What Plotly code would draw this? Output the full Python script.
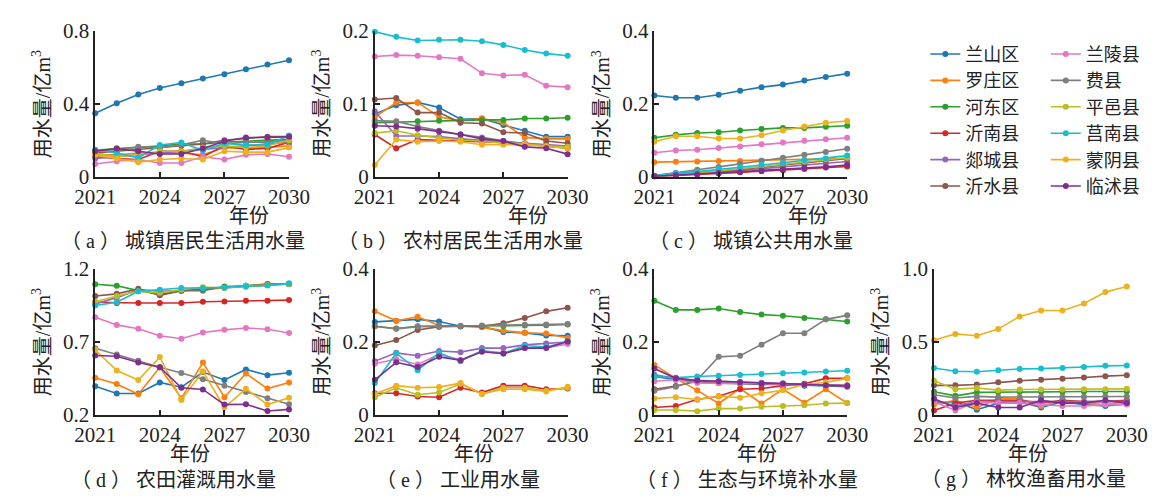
import plotly.graph_objects as go

W, H = 1169, 502

years = list(range(2021, 2031))
districts = ["兰山区", "罗庄区", "河东区", "沂南县", "郯城县", "沂水县",
             "兰陵县", "费县", "平邑县", "莒南县", "蒙阴县", "临沭县"]
colors = ["#1f77b4", "#ff7f0e", "#2ca02c", "#d62728", "#9467bd", "#8c564b",
          "#e377c2", "#7f7f7f", "#bcbd22", "#17becf", "#edb120", "#7e2f8e"]

# (a) urban domestic water use, one row per district (same order as `districts`)
urban_domestic = [
    [0.348, 0.403, 0.452, 0.487, 0.513, 0.539, 0.563, 0.590, 0.616, 0.640],
    [0.12, 0.12, 0.13, 0.13, 0.13, 0.12, 0.16, 0.155, 0.16, 0.17],
    [0.145, 0.155, 0.16, 0.17, 0.18, 0.18, 0.19, 0.195, 0.20, 0.205],
    [0.11, 0.10, 0.095, 0.14, 0.14, 0.11, 0.17, 0.15, 0.155, 0.19],
    [0.10, 0.11, 0.12, 0.13, 0.14, 0.15, 0.16, 0.17, 0.18, 0.19],
    [0.13, 0.14, 0.15, 0.16, 0.17, 0.18, 0.20, 0.21, 0.22, 0.22],
    [0.07, 0.085, 0.095, 0.075, 0.075, 0.11, 0.095, 0.12, 0.125, 0.11],
    [0.14, 0.15, 0.165, 0.16, 0.175, 0.20, 0.18, 0.19, 0.19, 0.20],
    [0.13, 0.11, 0.12, 0.14, 0.14, 0.16, 0.17, 0.16, 0.17, 0.20],
    [0.148, 0.13, 0.104, 0.174, 0.188, 0.144, 0.183, 0.174, 0.174, 0.226],
    [0.12, 0.10, 0.08, 0.095, 0.10, 0.095, 0.14, 0.135, 0.135, 0.16],
    [0.14, 0.155, 0.14, 0.125, 0.125, 0.155, 0.195, 0.215, 0.215, 0.22],
]

# (b) rural domestic water use
rural_domestic = [
    [0.086, 0.098, 0.102, 0.095, 0.079, 0.080, 0.071, 0.063, 0.055, 0.055],
    [0.082, 0.102, 0.102, 0.082, 0.077, 0.080, 0.074, 0.054, 0.052, 0.052],
    [0.074, 0.075, 0.076, 0.077, 0.077, 0.078, 0.078, 0.080, 0.080, 0.081],
    [0.058, 0.039, 0.051, 0.050, 0.049, 0.048, 0.047, 0.045, 0.042, 0.039],
    [0.090, 0.056, 0.056, 0.055, 0.052, 0.050, 0.048, 0.046, 0.044, 0.042],
    [0.106, 0.108, 0.088, 0.088, 0.074, 0.073, 0.061, 0.060, 0.049, 0.046],
    [0.165, 0.167, 0.166, 0.164, 0.162, 0.142, 0.139, 0.140, 0.125, 0.123],
    [0.077, 0.076, 0.069, 0.063, 0.058, 0.054, 0.049, 0.045, 0.042, 0.040],
    [0.060, 0.063, 0.057, 0.053, 0.050, 0.049, 0.046, 0.045, 0.042, 0.041],
    [0.199, 0.192, 0.187, 0.188, 0.188, 0.186, 0.181, 0.174, 0.169, 0.166],
    [0.016, 0.051, 0.048, 0.049, 0.048, 0.044, 0.044, 0.044, 0.042, 0.039],
    [0.070, 0.069, 0.066, 0.062, 0.058, 0.052, 0.049, 0.041, 0.039, 0.031],
]

# (c) urban public water use
urban_public = [
    [0.223, 0.217, 0.217, 0.225, 0.236, 0.246, 0.253, 0.264, 0.274, 0.283],
    [0.040, 0.041, 0.042, 0.043, 0.043, 0.044, 0.045, 0.046, 0.048, 0.050],
    [0.107, 0.115, 0.120, 0.122, 0.127, 0.131, 0.134, 0.134, 0.137, 0.140],
    [0.001, 0.003, 0.006, 0.009, 0.012, 0.015, 0.018, 0.021, 0.025, 0.028],
    [0.002, 0.005, 0.009, 0.013, 0.017, 0.022, 0.027, 0.032, 0.037, 0.042],
    [0.001, 0.005, 0.010, 0.015, 0.020, 0.025, 0.032, 0.038, 0.045, 0.050],
    [0.066, 0.072, 0.074, 0.079, 0.083, 0.089, 0.094, 0.099, 0.103, 0.107],
    [0.003, 0.010, 0.019, 0.027, 0.036, 0.044, 0.052, 0.060, 0.068, 0.077],
    [0.001, 0.005, 0.010, 0.016, 0.022, 0.030, 0.036, 0.042, 0.048, 0.052],
    [0.002, 0.010, 0.014, 0.021, 0.026, 0.032, 0.038, 0.045, 0.050, 0.058],
    [0.096, 0.111, 0.111, 0.105, 0.105, 0.114, 0.127, 0.138, 0.148, 0.153],
    [0.001, 0.004, 0.007, 0.010, 0.013, 0.016, 0.020, 0.024, 0.027, 0.032],
]

# (d) farmland irrigation water use
irrigation = [
    [0.396, 0.346, 0.346, 0.422, 0.389, 0.493, 0.439, 0.511, 0.472, 0.489],
    [0.454, 0.411, 0.341, 0.526, 0.313, 0.559, 0.320, 0.483, 0.380, 0.422],
    [1.096, 1.085, 1.052, 1.026, 1.052, 1.052, 1.080, 1.085, 1.096, 1.098],
    [0.972, 0.967, 0.967, 0.967, 0.967, 0.976, 0.978, 0.983, 0.983, 0.987],
    [0.960, 1.004, 1.059, 1.048, 1.052, 1.059, 1.070, 1.080, 1.090, 1.098],
    [1.015, 1.030, 1.065, 1.020, 1.052, 1.065, 1.074, 1.085, 1.098, 1.096],
    [0.870, 0.817, 0.791, 0.743, 0.722, 0.765, 0.783, 0.796, 0.787, 0.761],
    [0.657, 0.613, 0.570, 0.526, 0.487, 0.443, 0.400, 0.357, 0.313, 0.272],
    [0.976, 1.015, 1.048, 1.037, 1.059, 1.076, 1.070, 1.085, 1.091, 1.098],
    [0.950, 0.972, 1.048, 1.059, 1.070, 1.070, 1.074, 1.080, 1.087, 1.102],
    [0.646, 0.504, 0.439, 0.596, 0.302, 0.498, 0.250, 0.378, 0.270, 0.317],
    [0.607, 0.602, 0.559, 0.526, 0.385, 0.374, 0.270, 0.272, 0.226, 0.237],
]

# (e) industrial water use
industrial = [
    [0.255, 0.258, 0.262, 0.256, 0.243, 0.243, 0.227, 0.225, 0.218, 0.217],
    [0.284, 0.258, 0.269, 0.245, 0.243, 0.240, 0.231, 0.225, 0.223, 0.211],
    [0.243, 0.237, 0.243, 0.243, 0.243, 0.243, 0.244, 0.245, 0.246, 0.248],
    [0.059, 0.059, 0.050, 0.048, 0.074, 0.061, 0.080, 0.080, 0.070, 0.072],
    [0.147, 0.170, 0.162, 0.175, 0.172, 0.183, 0.183, 0.192, 0.196, 0.200],
    [0.190, 0.205, 0.233, 0.242, 0.243, 0.243, 0.251, 0.266, 0.284, 0.294],
    [0.140, 0.153, 0.138, 0.166, 0.150, 0.175, 0.170, 0.183, 0.185, 0.194],
    [0.243, 0.236, 0.242, 0.242, 0.243, 0.245, 0.246, 0.247, 0.248, 0.249],
    [0.048, 0.074, 0.055, 0.061, 0.085, 0.057, 0.074, 0.074, 0.066, 0.074],
    [0.087, 0.169, 0.122, 0.170, 0.147, 0.176, 0.168, 0.190, 0.186, 0.201],
    [0.057, 0.080, 0.074, 0.076, 0.087, 0.057, 0.070, 0.070, 0.064, 0.077],
    [0.096, 0.144, 0.131, 0.159, 0.150, 0.173, 0.168, 0.183, 0.183, 0.201],
]

# (f) ecological and environmental water replenishment
ecological = [
    [0.105, 0.096, 0.092, 0.087, 0.086, 0.083, 0.083, 0.080, 0.079, 0.077],
    [0.137, 0.100, 0.067, 0.031, 0.072, 0.031, 0.070, 0.033, 0.070, 0.032],
    [0.313, 0.288, 0.288, 0.292, 0.282, 0.275, 0.272, 0.266, 0.262, 0.256],
    [0.020, 0.024, 0.042, 0.051, 0.070, 0.072, 0.080, 0.085, 0.100, 0.100],
    [0.110, 0.100, 0.095, 0.092, 0.090, 0.088, 0.086, 0.084, 0.082, 0.080],
    [0.070, 0.079, 0.092, 0.087, 0.086, 0.085, 0.084, 0.083, 0.082, 0.081],
    [0.092, 0.096, 0.087, 0.087, 0.087, 0.086, 0.083, 0.083, 0.081, 0.080],
    [0.066, 0.077, 0.096, 0.159, 0.162, 0.192, 0.224, 0.224, 0.262, 0.273],
    [0.013, 0.013, 0.010, 0.017, 0.017, 0.022, 0.024, 0.026, 0.031, 0.032],
    [0.105, 0.102, 0.105, 0.107, 0.109, 0.112, 0.114, 0.116, 0.119, 0.121],
    [0.045, 0.048, 0.042, 0.051, 0.047, 0.059, 0.067, 0.083, 0.089, 0.100],
    [0.127, 0.100, 0.094, 0.092, 0.089, 0.086, 0.086, 0.083, 0.081, 0.079],
]

# (g) forestry, animal husbandry and fishery water use
husbandry = [
    [0.080, 0.090, 0.035, 0.080, 0.090, 0.050, 0.090, 0.070, 0.060, 0.075],
    [0.070, 0.100, 0.050, 0.110, 0.110, 0.060, 0.100, 0.080, 0.070, 0.090],
    [0.158, 0.130, 0.154, 0.154, 0.158, 0.158, 0.158, 0.160, 0.160, 0.160],
    [0.030, 0.080, 0.100, 0.100, 0.100, 0.080, 0.100, 0.090, 0.090, 0.100],
    [0.100, 0.060, 0.090, 0.090, 0.090, 0.090, 0.090, 0.090, 0.090, 0.090],
    [0.202, 0.202, 0.208, 0.223, 0.234, 0.241, 0.247, 0.256, 0.265, 0.271],
    [0.090, 0.030, 0.090, 0.080, 0.080, 0.070, 0.060, 0.060, 0.070, 0.070],
    [0.137, 0.115, 0.126, 0.121, 0.122, 0.123, 0.123, 0.124, 0.125, 0.125],
    [0.234, 0.176, 0.184, 0.169, 0.174, 0.174, 0.174, 0.176, 0.176, 0.178],
    [0.321, 0.299, 0.295, 0.306, 0.315, 0.317, 0.321, 0.328, 0.336, 0.338],
    [0.512, 0.555, 0.542, 0.588, 0.675, 0.716, 0.716, 0.764, 0.842, 0.881],
    [0.110, 0.050, 0.080, 0.050, 0.050, 0.100, 0.080, 0.080, 0.100, 0.080],
]

panel_data = [urban_domestic, rural_domestic, urban_public,
              irrigation, industrial, ecological, husbandry]
panel_letters = ["a", "b", "c", "d", "e", "f", "g"]
panel_names = ["城镇居民生活用水量", "农村居民生活用水量", "城镇公共用水量",
               "农田灌溉用水量", "工业用水量", "生态与环境补水量", "林牧渔畜用水量"]
y_tick_vals = [[0, 0.4, 0.8], [0, 0.1, 0.2], [0, 0.2, 0.4],
               [0.2, 0.7, 1.2], [0, 0.2, 0.4], [0, 0.2, 0.4], [0, 0.5, 1.0]]
y_tick_text = [["0", "0.4", "0.8"], ["0", "0.1", "0.2"], ["0", "0.2", "0.4"],
               ["0.2", "0.7", "1.2"], ["0", "0.2", "0.4"], ["0", "0.2", "0.4"],
               ["0", "0.5", "1.0"]]
x_tick_vals = [2021, 2024, 2027, 2030]

# panel frames in pixels: (left, right, top, bottom)
frames = [(77, 278, 20, 173), (367, 567, 20, 173), (657, 857, 20, 173),
          (77, 278, 270, 423), (367, 567, 270, 423), (657, 857, 270, 423),
          (947, 1147, 270, 423)]
# right edge of each caption and centre of each "年份" label, in pixels
caption_right = [297, 585, 865, 267, 540, 870, 1148]
xlabel_center = [236, 526, 816, 175, 470, 763, 1045]

NUM_FONT = "'Liberation Serif', 'DejaVu Serif', serif"
TXT_FONT = "'Liberation Serif', 'Noto Sans CJK SC', serif"
FS = 20

fig = go.Figure()
layout = dict(
    width=W, height=H, margin=dict(l=0, r=0, t=0, b=0),
    paper_bgcolor="white", plot_bgcolor="white",
    font=dict(family=TXT_FONT, size=FS, color="#222"),
    annotations=[],
)

for p, (data, frame) in enumerate(zip(panel_data, frames)):
    left, right, top, bottom = frame
    n = "" if p == 0 else str(p + 1)
    xa, ya = "xaxis" + n, "yaxis" + n
    common = dict(showline=True, linecolor="#222", linewidth=1.5, ticks="inside",
                  ticklen=5, tickwidth=1.5, tickcolor="#222", showgrid=False,
                  zeroline=False, tickfont=dict(family=NUM_FONT, size=21, color="#222"))
    layout[xa] = dict(domain=[left / W, right / W], range=[2021, 2030],
                      tickvals=x_tick_vals, anchor="y" + n, **common)
    vals = y_tick_vals[p]
    layout[ya] = dict(domain=[1 - bottom / H, 1 - top / H], range=[vals[0], vals[-1]],
                      tickvals=vals, ticktext=y_tick_text[p], anchor="x" + n, **common)
    for i, name in enumerate(districts):
        fig.add_trace(go.Scatter(
            x=years, y=data[i], mode="lines+markers", name=name,
            line=dict(color=colors[i], width=1.6),
            marker=dict(color=colors[i], size=6),
            xaxis="x" + n, yaxis="y" + n, cliponaxis=False,
            showlegend=(p == 0), legendgroup=name,
            legend="legend" if i < 6 else "legend2",
        ))
    mid_y = (top + bottom) / 2
    caption = "（ " + panel_letters[p] + " ） " + panel_names[p]
    layout["annotations"] += [
        dict(text="用水量/亿m<sup>3</sup>", textangle=-90, x=(left - 56) / W,
             y=1 - mid_y / H, xref="paper", yref="paper", showarrow=False,
             xanchor="center", yanchor="middle", font=dict(size=FS)),
        dict(text="年份", x=xlabel_center[p] / W, y=1 - (bottom + 41) / H,
             xref="paper", yref="paper", showarrow=False, xanchor="center",
             yanchor="middle", font=dict(size=FS)),
        dict(text=caption, x=caption_right[p] / W, y=1 - (bottom + 68) / H,
             xref="paper", yref="paper", showarrow=False, xanchor="right",
             yanchor="middle", font=dict(size=FS)),
    ]

legend_style = dict(font=dict(family=TXT_FONT, size=18, color="#222"),
                    bgcolor="rgba(0,0,0,0)", itemwidth=30, yanchor="top",
                    xanchor="left", tracegroupgap=0)
layout["legend"] = dict(x=938 / W, y=1 - 25 / H, **legend_style)
layout["legend2"] = dict(x=1063 / W, y=1 - 25 / H, **legend_style)

fig.update_layout(**layout)
fig.write_html("out.html")
